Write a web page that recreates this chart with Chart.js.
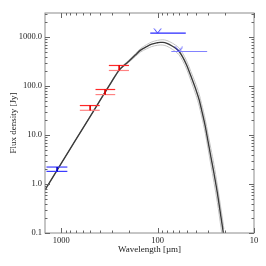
<!DOCTYPE html>
<html>
<head>
<meta charset="utf-8">
<script src="https://cdn.jsdelivr.net/npm/chart.js@4/dist/chart.umd.min.js"></script>
<style>
  body { margin: 0; background: #fff; }
  canvas { display: block; }
</style>
</head>
<body>
<canvas id="sedChart" width="266" height="266"></canvas>
<script>
// axis ticks
const xTicks = [1000, 100, 10];
const yTicks = [0.1, 1, 10, 100, 1000];

// model curve, wavelength in um, flux in Jy
const curveWave = [1470, 1100, 800, 600, 450, 350, 300, 250, 200, 170, 150, 130, 115, 100, 94, 88, 80, 70, 65, 60, 55, 50, 45, 40, 37, 35, 32, 30, 28, 26, 24, 22, 21, 20.5];
const curveFlux = [0.76, 1.92, 5.32, 13.4, 33.5, 75, 122, 212, 318, 430, 540, 636, 715, 765, 780, 778, 745, 650, 590, 515, 395, 270, 158, 84, 52, 33, 15, 7.5, 3.6, 1.64, 0.66, 0.21, 0.115, 0.082];
const curveUpper = [0.76, 1.92, 5.33, 13.5, 33.9, 76.5, 125, 219, 334, 460, 583, 700, 794, 857, 874, 880, 850, 748, 684, 603, 470, 327, 196, 108, 68, 44, 20.7, 10.6, 5.3, 2.5, 0.95, 0.31, 0.17, 0.12];
const curveLower = [0.76, 1.92, 5.31, 13.3, 33.1, 73.5, 119, 205, 302, 400, 495, 575, 640, 680, 690, 686, 652, 560, 505, 438, 330, 222, 127, 65, 39, 24.5, 10.8, 5.3, 2.45, 1.08, 0.42, 0.13, 0.07, 0.05];

// red measurements (band edges + flux range)
const redWave = [500, 350, 250];
const redBandLong = [640, 440, 320];
const redBandShort = [398, 275, 198];
const redFluxTop = [40, 85, 263];
const redFluxBot = [32, 67, 208];

// blue measurement at 1.1 mm
const blueWave = [1100];
const blueBandLong = [1420];
const blueBandShort = [862];
const blueFluxTop = [2.22];
const blueFluxBot = [1.81];

// blue upper limits
const limWave = [100, 60];
const limBandLong = [119, 72];
const limBandShort = [51, 30.6];
const limFlux = [1207, 508];

const serif = "'Liberation Serif', 'DejaVu Serif', serif";

// little "V" used as the upper-limit marker, tip sits on the point
function makeV(color) {
    const c = document.createElement('canvas');
    c.width = 9; c.height = 10;
    const g = c.getContext('2d');
    g.strokeStyle = color;
    g.lineWidth = 1;
    g.beginPath();
    g.moveTo(1, 0.5); g.lineTo(4.5, 5); g.lineTo(8, 0.5);
    g.stroke();
    return c;
}

function seg(x1, x2, y1, y2, color, w) {
    return {
        data: [{x: x1, y: y1}, {x: x2, y: y2}],
        showLine: true, borderColor: color, backgroundColor: color,
        borderWidth: w, pointRadius: 0, fill: false
    };
}

const datasets = [];

// upper limits
datasets.push({
    data: limWave.map((w, i) => ({x: w, y: limFlux[i]})),
    showLine: false, pointRadius: 3,
    pointStyle: makeV('rgb(50,50,255)')
});
limWave.forEach((w, i) => {
    datasets.push(seg(limBandLong[i], limBandShort[i], limFlux[i], limFlux[i], i === 0 ? 'rgb(40,40,255)' : 'rgb(130,130,255)', 1.2));
});

// blue 1.1mm point
blueWave.forEach((w, i) => {
    datasets.push(seg(w, w, blueFluxTop[i], blueFluxBot[i], 'rgb(0,0,200)', 1));
    datasets.push(seg(blueBandLong[i], blueBandShort[i], blueFluxTop[i], blueFluxTop[i], 'rgb(60,60,255)', 1.2));
    datasets.push(seg(blueBandLong[i], blueBandShort[i], blueFluxBot[i], blueFluxBot[i], 'rgb(60,60,255)', 1.2));
});

// red points
redWave.forEach((w, i) => {
    datasets.push(seg(w, w, redFluxTop[i], redFluxBot[i], 'rgb(220,0,0)', 1));
    datasets.push(seg(redBandLong[i], redBandShort[i], redFluxTop[i], redFluxTop[i], 'rgb(255,40,40)', 1.2));
    datasets.push(seg(redBandLong[i], redBandShort[i], redFluxBot[i], redFluxBot[i], 'rgb(255,130,130)', 1.2));
});

// model curves
const curveStyle = {
    showLine: true, pointRadius: 0, fill: false,
    cubicInterpolationMode: 'monotone'
};
datasets.push(Object.assign({
    data: curveWave.map((w, i) => ({x: w, y: curveFlux[i]})),
    borderColor: '#3a3a3a', borderWidth: 1.4
}, curveStyle));
datasets.push(Object.assign({
    data: curveWave.map((w, i) => ({x: w, y: curveUpper[i]})),
    borderColor: '#c4c4c4', borderWidth: 1
}, curveStyle));
datasets.push(Object.assign({
    data: curveWave.map((w, i) => ({x: w, y: curveLower[i]})),
    borderColor: '#c4c4c4', borderWidth: 1
}, curveStyle));

// frame + inward ticks on all four sides (IDL style)
const framePlugin = {
    id: 'frame',
    afterDraw(chart) {
        const {ctx, chartArea: a, scales: {x, y}} = chart;
        ctx.save();
        ctx.strokeStyle = '#8c8c8c';
        ctx.lineWidth = 1;
        ctx.strokeRect(a.left, a.top, a.right - a.left, a.bottom - a.top);
        ctx.strokeStyle = '#666';
        ctx.beginPath();
        const xmin = Math.min(x.min, x.max), xmax = Math.max(x.min, x.max);
        for (let d = 1; d <= 3; d++) {
            for (let m = 1; m <= 9; m++) {
                const v = m * Math.pow(10, d);
                if (v < xmin || v > xmax) continue;
                const px = Math.round(x.getPixelForValue(v)) + 0.5;
                const len = m === 1 ? 5 : 2.5;
                ctx.moveTo(px, a.bottom); ctx.lineTo(px, a.bottom - len);
                ctx.moveTo(px, a.top); ctx.lineTo(px, a.top + len);
            }
        }
        for (let d = -1; d <= 3; d++) {
            for (let m = 1; m <= 9; m++) {
                const v = m * Math.pow(10, d);
                if (v < y.min || v > y.max) continue;
                const py = Math.round(y.getPixelForValue(v)) + 0.5;
                const len = m === 1 ? 5 : 2.5;
                ctx.moveTo(a.left, py); ctx.lineTo(a.left + len, py);
                ctx.moveTo(a.right, py); ctx.lineTo(a.right - len, py);
            }
        }
        ctx.stroke();
        ctx.restore();
    }
};

const sedChart = new Chart(document.getElementById('sedChart'), {
    type: 'scatter',
    data: {datasets: datasets},
    options: {
        responsive: false,
        animation: false,
        layout: {padding: {left: 0, right: 12, top: 13, bottom: 0}},
        plugins: {legend: {display: false}, tooltip: {enabled: false}},
        scales: {
            x: {
                type: 'logarithmic', reverse: true, min: 10, max: 1470,
                afterBuildTicks: s => { s.ticks = xTicks.map(v => ({value: v})); },
                afterFit: s => { s.height = 33; },
                ticks: {
                    autoSkip: false, maxRotation: 0, padding: 3, color: '#222',
                    font: {family: serif, size: 8.5},
                    callback: v => String(v)
                },
                grid: {display: false, drawTicks: false},
                border: {display: false},
                title: {
                    display: true, text: 'Wavelength [µm]', color: '#222',
                    font: {family: serif, size: 9},
                    padding: {top: 0, bottom: 11}
                }
            },
            y: {
                type: 'logarithmic', min: 0.1, max: 3100,
                afterBuildTicks: s => { s.ticks = yTicks.map(v => ({value: v})); },
                afterFit: s => { s.width = 45; },
                ticks: {
                    autoSkip: false, padding: 3, color: '#222',
                    font: {family: serif, size: 8.5},
                    callback: v => Number(v).toFixed(1)
                },
                grid: {display: false, drawTicks: false},
                border: {display: false},
                title: {
                    display: true, text: 'Flux density [Jy]', color: '#222',
                    font: {family: serif, size: 9},
                    padding: {top: 8, bottom: 0}
                }
            }
        }
    },
    plugins: [framePlugin]
});
</script>
</body>
</html>
